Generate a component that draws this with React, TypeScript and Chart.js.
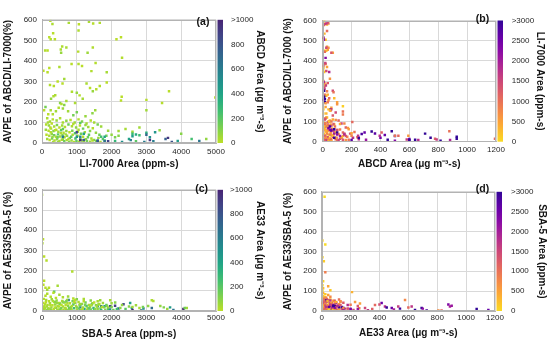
import React, { useEffect, useRef } from "react";
import { Chart, registerables } from "chart.js";
Chart.register(...registerables);

const FONT = 'Arial, "Liberation Sans", Helvetica, sans-serif';

// ---------- Dataset 1: ABCD vs LI-7000 (panels a, b) ----------
const abLi = [
  240, 300, 770, 1060, 1350, 1470, 1660, 1050, 210, 320,
  370, 250, 2140, 2270, 90, 160, 580, 540, 700, 550,
  1460, 1040, 1310, 2300, 850, 1050, 1150, 500, 210, 160,
  40, 1420, 1540, 1860, 640, 450, 340, 230, 590, 1860,
  1660, 1280, 1380, 1460, 1560, 3650, 1000, 860, 2290, 2270,
  3000, 3450, 1080, 1170, 260, 330, 380, 520, 560, 700,
  950, 600, 480, 100, 60, 250, 3000, 4980, 640, 750,
  1000, 1530, 900, 180, 310, 400, 1250, 1450,
  150, 230, 310, 420, 520, 600, 700, 820, 940, 1050,
  1150, 1280, 1400, 1500, 1600, 1700, 120, 200, 280, 350,
  430, 500, 580, 660, 760, 860, 980, 1090, 1180, 1330,
  1460, 110, 190, 260, 330, 410, 470, 550, 620, 700,
  790, 870, 950, 1030, 1120, 1230, 1350, 1550, 130, 210,
  280, 350, 400, 460, 520, 590, 650, 720, 800, 880,
  960, 1020, 1100, 1180, 1260, 1320, 1420, 1500, 1620, 1750,
  150, 220, 290, 360, 430, 500, 570, 640, 710, 780,
  850, 920, 990, 1060, 1140, 1200, 1290, 1380, 1450, 1560,
  1680, 1800, 320, 460, 250, 380, 450, 540, 680, 760,
  840, 300, 600, 1050, 1380, 1650, 240, 170, 900, 1250,
  1900, 2000, 2100, 2200, 2400, 2600, 2800, 3380, 4000, 4300,
  4720, 2500, 2550, 2100, 2300, 2700, 3200, 2200, 1850, 3100,
  1100, 600, 1700, 2800, 2600, 3000, 2700, 1800, 1200, 2600,
  3250, 1000, 1100, 3550, 1600, 600, 3730, 1800, 3100, 1200,
  1600, 1000, 1900, 3620, 1100, 3000, 4520, 3900, 2940,
];
const abAvpe = [
  595, 580, 585, 578, 590, 582, 585, 548, 515, 535,
  505, 505, 505, 515, 450, 450, 470, 455, 465, 440,
  465, 445, 440, 415, 385, 385, 375, 370, 365, 345,
  352, 350, 390, 345, 312, 300, 278, 282, 290, 295,
  278, 290, 268, 252, 262, 252, 245, 250, 225, 207,
  210, 195, 232, 215, 215, 228, 233, 195, 190, 205,
  195, 168, 172, 175, 160, 160, 160, 222, 185, 155,
  150, 160, 135, 140, 140, 155, 130, 145,
  120, 105, 115, 110, 120, 100, 108, 112, 100, 115,
  105, 95, 110, 100, 90, 80, 90, 85, 95, 80,
  88, 75, 85, 78, 90, 82, 75, 85, 70, 78,
  72, 65, 60, 70, 58, 65, 55, 62, 50, 58,
  52, 60, 48, 55, 45, 52, 40, 50, 40, 35,
  45, 38, 30, 42, 32, 38, 28, 35, 25, 40,
  22, 35, 20, 30, 18, 28, 22, 15, 25, 20,
  20, 15, 22, 12, 18, 10, 16, 8, 14, 6,
  12, 5, 10, 6, 12, 4, 10, 6, 12, 8,
  5, 12, 5, 4, 52, 62, 28, 48, 42, 20,
  30, 30, 20, 65, 58, 40, 75, 100, 92, 88,
  60, 40, 28, 58, 68, 55, 75, 62, 45, 20,
  20, 20, 14, 10, 5, 8, 8, 35, 35, 28,
  98, 68, 30, 38, 45, 50, 41, 30, 45, 33,
  52, 30, 30, 20, 11, 30, 5, 8, 15, 15,
  11, 52, 8, 25, 15, 40, 10, 10, 5,
];
const abAbcd = [
  10, 30, 40, 8, 35, 15, 25, 30, 5, 12,
  8, 20, 8, 5, 25, 10, 30, 35, 40, 70,
  25, 15, 60, 20, 10, 20, 5, 30, 5, 10,
  3, 25, 18, 45, 50, 5, 15, 20, 12, 8,
  22, 35, 10, 70, 12, 10, 75, 30, 10, 5,
  15, 15, 15, 45, 80, 25, 35, 100, 20, 40,
  35, 60, 20, 140, 5, 40, 55, 10, 100, 55,
  140, 60, 140, 5, 25, 50, 70, 90,
  30, 50, 15, 70, 25, 40, 90, 10, 60, 20,
  110, 35, 15, 45, 130, 60, 20, 80, 5, 40,
  120, 10, 55, 25, 150, 35, 85, 15, 160, 50,
  20, 65, 15, 35, 100, 8, 45, 180, 25, 70,
  5, 120, 220, 30, 140, 60, 190, 80, 10, 40,
  90, 150, 20, 200, 60, 110, 5, 75, 170, 30,
  240, 50, 130, 15, 95, 160, 35, 120, 70, 210,
  50, 5, 130, 25, 85, 45, 15, 160, 35, 100,
  60, 10, 180, 40, 90, 25, 140, 55, 20, 110,
  30, 250, 40, 60, 25, 5, 140, 30, 55, 20,
  200, 70, 95, 40, 100, 150, 12, 45, 18, 75,
  60, 80, 120, 50, 40, 60, 50, 80, 100, 250,
  80, 400, 600, 300, 500, 200, 600, 100, 150, 500,
  205, 175, 245, 270, 290, 339, 362, 395, 408, 430,
  478, 500, 524, 747, 582, 593, 816, 662, 928, 778,
  789, 877, 882, 928, 1193, 709, 640, 450, 600,
];

// ---------- Dataset 2: AE33 vs SBA-5 (panels c, d) ----------
const cdSba = [
  0, 30, 10, 60, 130, 870, 60, 40, 450, 100,
  200, 0, 350, 3200, 150,
  600, 500, 1100, 2533, 1800, 2581, 1600, 2916, 765, 1100,
  1700, 3155, 700, 1100, 2342, 1960, 2100, 4063, 2600, 2850,
  3776, 2199, 1434, 3680, 4160,
  50, 120, 200, 280, 350, 420, 500, 580, 650, 720,
  800, 880, 950, 1050, 1150, 1250, 1350, 1450, 1550, 1650,
  1750, 1850, 30, 90, 160, 230, 300, 380, 450, 520,
  600, 680, 750, 830, 900, 980, 1080, 1180, 1280, 1380,
  1480, 1580, 1680, 1780, 1900, 2000, 20, 80, 140, 210,
  270, 340, 410, 480, 550, 620, 690, 760, 840, 920,
  1000, 1060, 1140, 1220, 1300, 1400, 1500, 1600, 1700, 1820,
  1950, 2050, 2150, 60, 180, 300, 440, 560, 700, 860,
  1120, 100, 250, 400, 600, 900, 150, 500, 1200, 750,
  330, 1000, 1400, 1600, 2000, 2300, 2500, 2700, 2900, 3050,
  2400, 2800, 3500, 3600, 4100, 3155, 1960, 2103, 1673,
  70, 110, 170, 240, 310, 370, 430, 490, 560, 610,
  660, 730, 790, 860, 930, 1010, 1090, 1170, 1240, 1310,
  1420, 1530, 1620, 1720, 1870, 250, 520, 780, 1350, 1900,
  40, 130, 380, 700, 950, 1200, 1500, 2250, 2600, 3400,
];
const cdAvpe = [
  575, 355, 335, 270, 250, 195, 150, 130, 125, 115,
  115, 100, 95, 50, 105,
  45, 38, 30, 40, 23, 15, 23, 12, 55, 18,
  23, 15, 3, 3, 33, 23, 26, 10, 5, 3,
  5, 12, 33, 18, 15,
  60, 55, 48, 58, 45, 52, 40, 50, 42, 55,
  38, 48, 40, 45, 35, 42, 30, 38, 28, 35,
  40, 30, 40, 35, 30, 38, 28, 32, 25, 34,
  22, 30, 26, 20, 32, 24, 28, 18, 25, 20,
  15, 22, 12, 18, 10, 20, 20, 15, 22, 12,
  18, 10, 16, 8, 14, 6, 12, 5, 10, 14,
  8, 12, 6, 10, 4, 8, 5, 10, 4, 6,
  8, 5, 10, 5, 4, 3, 4, 3, 2, 3,
  2, 75, 70, 65, 68, 62, 85, 80, 60, 72,
  90, 58, 52, 48, 38, 30, 22, 28, 20, 25,
  10, 15, 18, 10, 15, 53, 53, 42, 53,
  25, 45, 12, 28, 50, 18, 40, 22, 30, 45,
  15, 38, 10, 25, 45, 18, 35, 12, 30, 15,
  28, 10, 32, 20, 25, 8, 6, 15, 12, 18,
  10, 5, 45, 48, 55, 48, 42, 15, 20, 25,
];
const cdAe33 = [
  20, 5, 25, 5, 15, 25, 10, 5, 45, 5,
  10, 5, 210, 30, 60,
  231, 265, 369, 415, 438, 485, 530, 542, 577, 600,
  623, 692, 808, 830, 877, 888, 900, 1073, 1154, 727,
  646, 700, 400, 450, 50,
  20, 40, 10, 60, 25, 80, 15, 35, 100, 50,
  20, 130, 70, 30, 90, 150, 40, 70, 110, 25,
  60, 180, 5, 15, 30, 50, 10, 70, 20, 120,
  40, 10, 90, 60, 200, 35, 120, 55, 250, 80,
  300, 45, 160, 90, 200, 120, 8, 25, 45, 12,
  65, 30, 90, 20, 140, 50, 25, 110, 70, 260,
  40, 180, 95, 350, 60, 140, 220, 80, 320, 120,
  500, 150, 250, 12, 35, 5, 55, 25, 80, 30,
  15, 10, 20, 5, 30, 15, 25, 45, 35, 60,
  10, 120, 90, 40, 60, 80, 100, 60, 140, 90,
  200, 40, 120, 60, 150, 30, 40, 100, 60,
  30, 8, 55, 15, 40, 10, 65, 25, 5, 90,
  35, 20, 75, 45, 15, 100, 60, 20, 130, 50,
  25, 95, 60, 30, 110, 90, 120, 150, 180, 70,
  50, 80, 100, 130, 10, 20, 5, 90, 50, 80,
];

// ---------- Axis / tick settings ----------
const avpeMax = 600;
const avpeStep = 100;
const gasAreaMax = 5000;
const gasAreaStep = 1000;
const bcAreaMax = 1200;
const bcAreaStep = 200;
const bcColorMax = 1000;
const bcColorStep = 200;
const gasColorMax = 3000;
const gasColorStep = 500;

const VIRIDIS = ["#440154", "#482475", "#414487", "#355f8d", "#2a788e", "#21918c", "#22a884", "#44bf70", "#7ad151", "#bddf26", "#fde725"];
const PLASMA = ["#0d0887", "#41049d", "#6a00a8", "#8f0da4", "#b12a90", "#cc4778", "#e16462", "#f2844b", "#fca636", "#fcce25", "#f0f921"];

function hexToRgb(h: string) {
  const n = parseInt(h.slice(1), 16);
  return [(n >> 16) & 255, (n >> 8) & 255, n & 255];
}
function cmap(stops: string[], t: number) {
  const p = Math.max(0, Math.min(1, t)) * (stops.length - 1);
  const i = Math.min(Math.floor(p), stops.length - 2);
  const f = p - i;
  const a = hexToRgb(stops[i]);
  const b = hexToRgb(stops[i + 1]);
  return `rgb(${Math.round(a[0] + (b[0] - a[0]) * f)},${Math.round(a[1] + (b[1] - a[1]) * f)},${Math.round(a[2] + (b[2] - a[2]) * f)})`;
}

type PanelCfg = {
  left: number;
  top: number;
  xs: number[];
  ys: number[];
  cs: number[];
  xMax: number;
  xStep: number;
  cMax: number;
  cStep: number;
  xTitle: string;
  yTitle: string;
  cTitle: string;
  label: string;
  stops: string[];
  tLow: number;
  tHigh: number;
  area: { l: number; r: number; t: number; b: number };
  yTitlePad: number;
  xTitlePad: number;
  cTitlePad: number;
  xTickPad: number;
  yTickPad: number;
  cTickPad: number;
  labelPos: [number, number];
};

const W = 275;
const H = 171;
const TICK_COLOR = "#262626";
const TITLE_COLOR = "#141414";
const GRID = "#d9d9d9";
const FRAME = "#b3b3b3";

const fmt = (v: number | string) => String(v);

function Panel({ cfg }: { cfg: PanelCfg }) {
  const ref = useRef<HTMLCanvasElement | null>(null);
  useEffect(() => {
    if (!ref.current) return;
    const { area } = cfg;
    const colorAt = (f: number) => cmap(cfg.stops, cfg.tLow + (cfg.tHigh - cfg.tLow) * Math.min(Math.max(f, 0), 1));
    const decor = {
      id: "decor",
      afterDraw(chart: any) {
        const ctx = chart.ctx;
        const ca = chart.chartArea;
        ctx.save();
        ctx.strokeStyle = FRAME;
        ctx.lineWidth = 1;
        const l = Math.round(ca.left) + 0.5;
        const r = Math.round(ca.right) - 0.5;
        const t = Math.round(ca.top) + 0.5;
        const b = Math.round(ca.bottom) - 0.5;
        ctx.strokeRect(l, t, r - l, b - t);
        const g = ctx.createLinearGradient(0, ca.bottom, 0, ca.top);
        for (let k = 0; k <= 20; k++) {
          const f = k / 20;
          g.addColorStop(f, colorAt(f));
        }
        ctx.fillStyle = g;
        ctx.fillRect(ca.right + 1.5, ca.top, 5.5, ca.bottom - ca.top);
        ctx.font = `bold 10.5px ${FONT}`;
        ctx.fillStyle = TITLE_COLOR;
        ctx.textAlign = "center";
        ctx.textBaseline = "middle";
        ctx.fillText(cfg.label, cfg.labelPos[0], cfg.labelPos[1]);
        ctx.restore();
      },
    };
    const tickFont = { family: FONT, size: 8 };
    const titleFont = { family: FONT, size: 10, weight: "bold" as const };
    const chart = new Chart(ref.current, {
      type: "scatter",
      data: {
        datasets: [
          {
            data: cfg.xs.map((x, i) => ({ x, y: cfg.ys[i] })),
            pointStyle: "rect",
            pointRadius: 1.75,
            pointBorderWidth: 0,
            pointBackgroundColor: (c: any) => colorAt(cfg.cs[c.dataIndex] / cfg.cMax),
          } as any,
        ],
      },
      options: {
        responsive: false,
        maintainAspectRatio: false,
        animation: false,
        events: [],
        layout: { padding: { top: area.t, left: 0, right: 0, bottom: 0 } },
        plugins: { legend: { display: false }, tooltip: { enabled: false } },
        scales: {
          x: {
            type: "linear",
            position: "bottom",
            min: 0,
            max: cfg.xMax,
            ticks: { stepSize: cfg.xStep, font: tickFont, color: TICK_COLOR, padding: cfg.xTickPad, maxRotation: 0, callback: fmt },
            grid: { color: GRID, drawTicks: false },
            border: { color: FRAME },
            title: { display: true, text: cfg.xTitle, font: titleFont, color: TITLE_COLOR, padding: { top: 0, bottom: cfg.xTitlePad } },
            afterFit: (s: any) => {
              s.height = H - area.b;
            },
          },
          y: {
            type: "linear",
            position: "left",
            min: 0,
            max: avpeMax,
            ticks: { stepSize: avpeStep, font: tickFont, color: TICK_COLOR, padding: cfg.yTickPad, callback: fmt },
            grid: { color: GRID, drawTicks: false },
            border: { color: FRAME },
            title: { display: true, text: cfg.yTitle, font: titleFont, color: TITLE_COLOR, padding: { top: cfg.yTitlePad, bottom: 0 } },
            afterFit: (s: any) => {
              s.width = area.l;
            },
          },
          cb: {
            type: "linear",
            position: "right",
            min: 0,
            max: cfg.cMax,
            ticks: {
              stepSize: cfg.cStep,
              font: tickFont,
              color: TICK_COLOR,
              padding: cfg.cTickPad,
              callback: (v: any) => (Number(v) === cfg.cMax ? ">" + cfg.cMax : String(v)),
            },
            grid: { display: false, drawTicks: false },
            border: { display: false },
            title: { display: true, text: cfg.cTitle, font: titleFont, color: TITLE_COLOR, padding: { top: cfg.cTitlePad, bottom: 0 } },
            afterFit: (s: any) => {
              s.width = W - area.r;
            },
          },
        } as any,
      },
      plugins: [decor],
    });
    return () => chart.destroy();
  }, [cfg]);
  return (
    <canvas
      ref={ref}
      width={W}
      height={H}
      style={{ position: "absolute", left: cfg.left, top: cfg.top, width: W, height: H }}
    />
  );
}

const PANELS: PanelCfg[] = [
  {
    left: 0, top: 0, xs: abLi, ys: abAvpe, cs: abAbcd,
    xMax: gasAreaMax, xStep: gasAreaStep, cMax: bcColorMax, cStep: bcColorStep,
    xTitle: "LI-7000 Area (ppm-s)", yTitle: "AVPE of ABCD/LI-7000(%)", cTitle: "ABCD Area (μg m⁻³-s)",
    label: "(a)", stops: VIRIDIS, tLow: 0.9, tHigh: 0.1,
    area: { l: 42, r: 216, t: 9, b: 143 },
    yTitlePad: 2.3, xTitlePad: 1.2, cTitlePad: 9, xTickPad: 4, yTickPad: 5, cTickPad: 15,
    labelPos: [203, 21.7],
  },
  {
    left: 275, top: 0, xs: abAbcd, ys: abAvpe, cs: abLi,
    xMax: bcAreaMax, xStep: bcAreaStep, cMax: gasColorMax, cStep: gasColorStep,
    xTitle: "ABCD Area (μg m⁻³-s)", yTitle: "AVPE of ABCD/LI-7000 (%)", cTitle: "LI-7000 Area (ppm-s)",
    label: "(b)", stops: PLASMA, tLow: 0.93, tHigh: 0.07,
    area: { l: 47.7, r: 221, t: 9, b: 141.7 },
    yTitlePad: 7.3, xTitlePad: 0.7, cTitlePad: 4, xTickPad: 3.5, yTickPad: 6, cTickPad: 15.7,
    labelPos: [207.5, 19],
  },
  {
    left: 0, top: 171, xs: cdSba, ys: cdAvpe, cs: cdAe33,
    xMax: gasAreaMax, xStep: gasAreaStep, cMax: bcColorMax, cStep: bcColorStep,
    xTitle: "SBA-5 Area (ppm-s)", yTitle: "AVPE of AE33/SBA-5 (%)", cTitle: "AE33 Area (μg m⁻³-s)",
    label: "(c)", stops: VIRIDIS, tLow: 0.9, tHigh: 0.1,
    area: { l: 42, r: 216, t: 6.7, b: 140 },
    yTitlePad: 2.3, xTitlePad: 1.7, cTitlePad: 9, xTickPad: 2, yTickPad: 5, cTickPad: 14,
    labelPos: [201.7, 18.3],
  },
  {
    left: 275, top: 171, xs: cdAe33, ys: cdAvpe, cs: cdSba,
    xMax: bcAreaMax, xStep: bcAreaStep, cMax: gasColorMax, cStep: gasColorStep,
    xTitle: "AE33 Area (μg m⁻³-s)", yTitle: "AVPE of AE33/SBA-5 (%)", cTitle: "SBA-5 Area (ppm-s)",
    label: "(d)", stops: PLASMA, tLow: 0.93, tHigh: 0.07,
    area: { l: 46.7, r: 220, t: 6.7, b: 140 },
    yTitlePad: 7.3, xTitlePad: 2.3, cTitlePad: 2.3, xTickPad: 2, yTickPad: 5, cTickPad: 16,
    labelPos: [207.5, 18.3],
  },
];

export default function App() {
  return (
    <div style={{ position: "absolute", left: 0, top: 0, width: 550, height: 342, background: "#fff", overflow: "hidden" }}>
      {PANELS.map((p) => (
        <Panel key={p.label} cfg={p} />
      ))}
    </div>
  );
}
